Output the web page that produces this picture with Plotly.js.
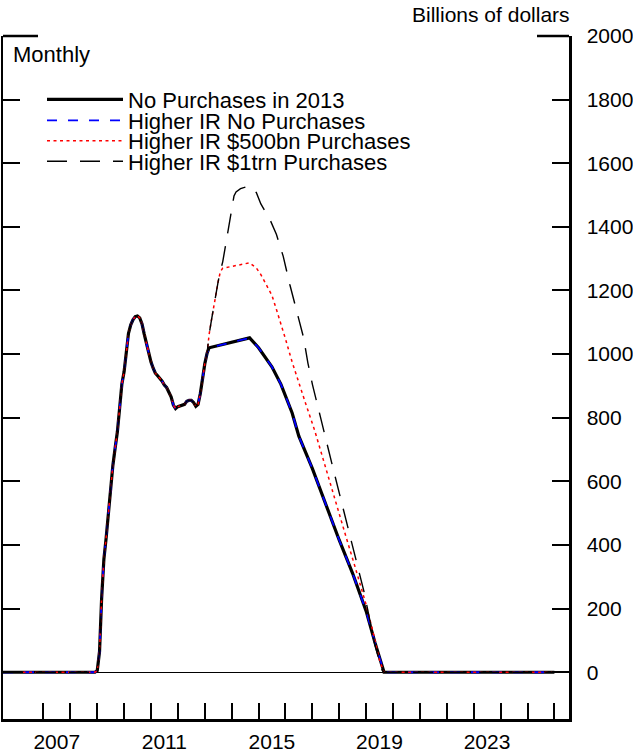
<!DOCTYPE html>
<html>
<head>
<meta charset="utf-8">
<script src="https://cdn.plot.ly/plotly-3.0.1.min.js"></script>
<style>html,body{margin:0;padding:0;background:#fff;}#chart{width:633px;height:753px;}</style>
</head>
<body>
<div id="chart"></div>
<script>
// ---- Data (billions of dollars, monthly) ----
// Shared history, common to all scenarios
const histDates = ['2005-07','2008-12','2009-01','2009-02','2009-03','2009-04','2009-05','2009-06','2009-07','2009-08','2009-09','2009-10','2009-11','2009-12',
  '2010-01','2010-02','2010-03','2010-04','2010-05','2010-06','2010-07','2010-08','2010-09','2010-10','2010-11','2010-12',
  '2011-01','2011-02','2011-03','2011-04','2011-05','2011-06','2011-07','2011-08','2011-09','2011-10','2011-11','2011-12',
  '2012-01','2012-02','2012-03','2012-04','2012-05','2012-06','2012-07','2012-08','2012-09','2012-10','2012-11','2012-12',
  '2013-01','2013-02'];
const histVals = [0,0,5,65,230,355,420,500,580,650,705,755,830,905,
  945,1008,1065,1092,1108,1118,1120,1114,1095,1063,1035,1000,
  975,955,940,932,925,915,903,895,880,866,840,829,
  835,838,840,842,852,855,855,848,836,842,876,930,
  970,1003];

// No Purchases in 2013 (and Higher IR No Purchases, which coincides)
const noPurchDates = ['2013-03','2014-09','2015-01','2015-07','2015-11','2016-04','2016-07','2017-01','2017-07','2018-01','2018-07','2019-01','2019-05','2019-08','2019-09','2026-01'];
const noPurchVals  = [1020,1051,1020,960,905,815,742,640,526,415,311,192,93,18,0,0];

// Higher IR $500bn Purchases
const p500Dates = ['2013-03','2013-04','2013-05','2013-06','2013-07','2013-08','2013-09','2014-09','2014-12','2015-02','2015-05','2015-07','2015-09','2015-11',
  '2016-01','2016-04','2016-07','2016-10','2017-02','2017-07','2017-12','2018-04','2018-08','2019-01','2019-04','2019-07','2019-09','2026-01'];
const p500Vals  = [1063,1107,1150,1190,1228,1260,1270,1287,1271,1250,1212,1185,1140,1095,
  1048,975,908,845,760,640,520,427,333,212,130,38,0,0];

// Higher IR $1trn Purchases
const p1tDates = ['2013-03','2013-04','2013-05','2013-06','2013-07','2013-08','2013-09','2013-10','2013-11','2013-12','2014-01','2014-02','2014-03','2014-05','2014-09','2014-12',
  '2015-02','2015-06','2015-09','2015-12','2016-03','2016-06','2016-09','2016-11','2017-01','2017-10','2018-05','2018-12','2019-05','2019-08','2019-09','2026-01'];
const p1tVals  = [1063,1107,1150,1190,1228,1262,1290,1330,1370,1418,1460,1497,1510,1520,1529,1508,
  1472,1425,1376,1308,1218,1134,1054,972,905,648,450,255,85,8,0,0];

const seriesNames = ['No Purchases in 2013','Higher IR No Purchases','Higher IR $500bn Purchases','Higher IR $1trn Purchases'];

// Axis ticks
const yTicks = [0,200,400,600,800,1000,1200,1400,1600,1800,2000];
const yearTickDates = ['2007-01-01','2008-01-01','2009-01-01','2010-01-01','2011-01-01','2012-01-01','2013-01-01','2014-01-01','2015-01-01','2016-01-01',
  '2017-01-01','2018-01-01','2019-01-01','2020-01-01','2021-01-01','2022-01-01','2023-01-01','2024-01-01','2025-01-01','2026-01-01'];
const yearLabelDates = ['2007-07-01','2011-07-01','2015-07-01','2019-07-01','2023-07-01'];
const yearLabels = ['2007','2011','2015','2019','2023'];

// ---- Build traces ----
const FONT = 'Liberation Sans, Arial, Helvetica, sans-serif';
const baseX = histDates.concat(noPurchDates), baseY = histVals.concat(noPurchVals);
const traces = [
  {x: baseX, y: baseY, name: seriesNames[0], legend: 'legend', mode: 'lines',
   line: {color: '#000000', width: 3.2, dash: 'solid'}},
  {x: baseX, y: baseY, name: seriesNames[1], legend: 'legend2', mode: 'lines',
   line: {color: '#0000ff', width: 1.8, dash: '10px,11px'}},
  {x: histDates.concat(p500Dates), y: histVals.concat(p500Vals), name: seriesNames[2], legend: 'legend3', mode: 'lines',
   line: {color: '#ff0000', width: 1.5, dash: '3px,3.5px'}},
  {x: histDates.concat(p1tDates), y: histVals.concat(p1tVals), name: seriesNames[3], legend: 'legend4', mode: 'lines',
   line: {color: '#000000', width: 1.4, dash: '20px,13px'}}
];

function px2py(py){ return (719 - py) / 683; }
function px2px(px){ return (px - 3) / 566; }

const legendBase = {xanchor: 'left', yanchor: 'middle', bgcolor: 'rgba(0,0,0,0)', borderwidth: 0,
  font: {family: FONT, size: 22, color: '#000'}, itemwidth: 76, itemclick: false, itemdoubleclick: false};
const legX = px2px(42);
const layout = {
  width: 633, height: 753,
  margin: {l: 3, r: 64, t: 36, b: 34, pad: 0},
  paper_bgcolor: '#fff', plot_bgcolor: '#fff',
  font: {family: FONT, size: 21, color: '#000'},
  showlegend: true,
  legend:  Object.assign({}, legendBase, {x: legX, y: px2py(99.5)}),
  legend2: Object.assign({}, legendBase, {x: legX, y: px2py(120.5)}),
  legend3: Object.assign({}, legendBase, {x: legX, y: px2py(141)}),
  legend4: Object.assign({}, legendBase, {x: legX, y: px2py(161.5)}),
  xaxis: {type: 'date', range: ['2005-07-01','2026-07-18'], tickmode: 'array', tickvals: yearLabelDates, ticktext: yearLabels,
    ticks: '', showline: true, linewidth: 2.5, linecolor: '#000', showgrid: false, zeroline: false, ticklabelstandoff: 2,
    tickfont: {family: FONT, size: 21, color: '#000'}, fixedrange: true,
    minor: {tickmode: 'array', tickvals: yearTickDates, ticks: 'inside', ticklen: 16, tickwidth: 2, tickcolor: '#000', showgrid: false}},
  yaxis: {range: [-147, 2000], tickmode: 'array', tickvals: yTicks, side: 'right', mirror: 'ticks', ticks: 'inside', ticklen: 17,
    tickwidth: 2, tickcolor: '#000', showline: true, linewidth: 2.5, linecolor: '#000', showgrid: false,
    zeroline: true, zerolinecolor: '#000', zerolinewidth: 1, ticklabelstandoff: 11,
    tickfont: {family: FONT, size: 21, color: '#000'}, fixedrange: true},
  shapes: [
    {type: 'line', xref: 'paper', yref: 'paper', x0: 0, x1: px2px(38), y0: 1, y1: 1, line: {color: '#000', width: 2.5}},
    {type: 'line', xref: 'paper', yref: 'paper', x0: px2px(537), x1: 1, y0: 1, y1: 1, line: {color: '#000', width: 2.5}}
  ],
  annotations: [
    {text: 'Monthly', xref: 'paper', yref: 'paper', x: px2px(11), y: px2py(55), xanchor: 'left', yanchor: 'middle', showarrow: false,
     font: {family: FONT, size: 22, color: '#000'}},
    {text: 'Billions of dollars', xref: 'paper', yref: 'paper', x: px2px(572), y: px2py(15), xanchor: 'right', yanchor: 'middle', showarrow: false,
     font: {family: FONT, size: 21, color: '#000'}}
  ]
};

const gd = document.getElementById('chart');
const TEXT_LEFT = 128; // where legend texts start in the reference
Plotly.newPlot(gd, traces, layout, {displayModeBar: false, staticPlot: true}).then(function(){
  const upd = {};
  ['legend','legend2','legend3','legend4'].forEach(function(id){
    const t = gd.querySelector('g.' + id + ' text.legendtext');
    if (!t) return;
    const left = t.getBoundingClientRect().left;
    const diff = left - TEXT_LEFT;
    if (Math.abs(diff) > 0.5) upd[id + '.x'] = layout[id].x - diff / 566;
  });
  if (Object.keys(upd).length) return Plotly.relayout(gd, upd);
});
</script>
</body>
</html>
